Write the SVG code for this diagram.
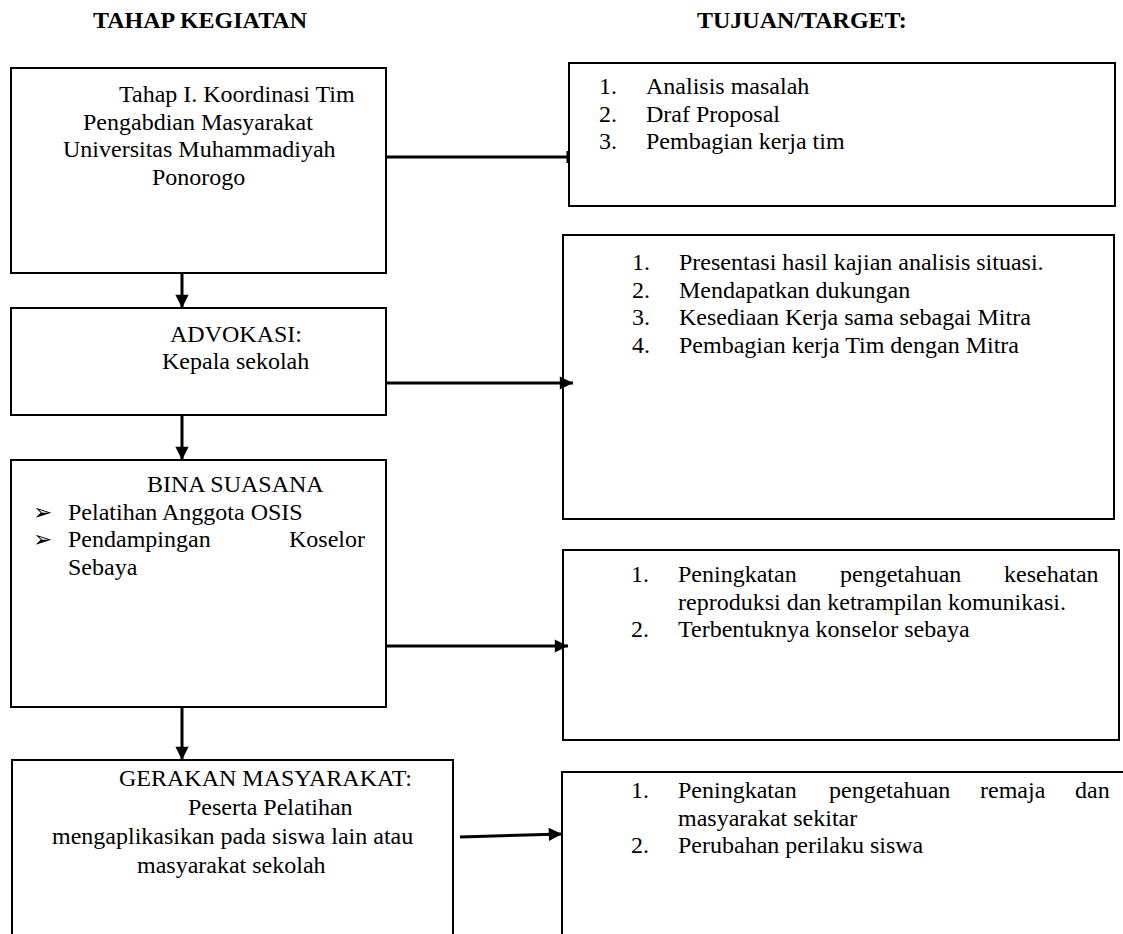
<svg xmlns="http://www.w3.org/2000/svg" width="1123" height="934" viewBox="0 0 1123 934">
<defs>
<style>
text{font-family:"Liberation Serif","Times New Roman",serif;font-size:24px;fill:#000}
.title{font-weight:bold}
.box{fill:#fff;stroke:#000;stroke-width:2}
.conn{stroke:#000;stroke-width:3;fill:none}
.bul{font-family:"DejaVu Sans",sans-serif;font-size:23px}
</style>
<marker id="ah" viewBox="0 0 10 10" refX="10" refY="5" markerWidth="5" markerHeight="4.4" markerUnits="strokeWidth" orient="auto">
<path d="M0,0 L10,5 L0,10 Z" fill="#000"/>
</marker>
</defs>
<rect width="1123" height="934" fill="#fff"/>

<text class="title" x="93" y="28">TAHAP KEGIATAN</text>
<text class="title" x="697" y="28">TUJUAN/TARGET:</text>

<g id="step1">
<rect class="box" x="11" y="68" width="375" height="205"/>
<text x="119" y="102">Tahap I. Koordinasi Tim</text>
<text x="83" y="129.5">Pengabdian Masyarakat</text>
<text x="63" y="157">Universitas Muhammadiyah</text>
<text x="152" y="184.5">Ponorogo</text>
</g>

<g id="target1">
<rect class="box" x="569" y="63" width="546" height="143"/>
<text x="599" y="94">1.</text><text x="646" y="94">Analisis masalah</text>
<text x="599" y="121.6">2.</text><text x="646" y="121.6">Draf Proposal</text>
<text x="599" y="149.2">3.</text><text x="646" y="149.2">Pembagian kerja tim</text>
</g>

<g id="step2">
<rect class="box" x="11" y="308" width="375" height="107"/>
<text x="170" y="342">ADVOKASI:</text>
<text x="162" y="369">Kepala sekolah</text>
</g>

<g id="target2">
<rect class="box" x="563" y="235" width="551" height="284"/>
<text x="632" y="270">1.</text><text x="679" y="270">Presentasi hasil kajian analisis situasi.</text>
<text x="632" y="297.6">2.</text><text x="679" y="297.6">Mendapatkan dukungan</text>
<text x="632" y="325.2">3.</text><text x="679" y="325.2">Kesediaan Kerja sama sebagai Mitra</text>
<text x="632" y="352.8">4.</text><text x="679" y="352.8">Pembagian kerja Tim dengan Mitra</text>
</g>

<g id="step3">
<rect class="box" x="11" y="460" width="375" height="247"/>
<text x="147" y="492">BINA SUASANA</text>
<text class="bul" x="33" y="520">➢</text><text x="68" y="520">Pelatihan Anggota OSIS</text>
<text class="bul" x="33" y="547">➢</text><text x="68" y="547">Pendampingan</text><text x="289" y="547">Koselor</text>
<text x="68" y="575">Sebaya</text>
</g>

<g id="target3">
<rect class="box" x="563" y="550" width="556" height="190"/>
<text x="631" y="582">1.</text>
<text y="582"><tspan x="678">Peningkatan</tspan><tspan x="840">pengetahuan</tspan><tspan x="1004">kesehatan</tspan></text>
<text x="678" y="610">reproduksi dan ketrampilan komunikasi.</text>
<text x="631" y="637">2.</text><text x="678" y="637">Terbentuknya konselor sebaya</text>
</g>

<g id="step4">
<rect class="box" x="12" y="760" width="441" height="190"/>
<text x="119" y="786">GERAKAN MASYARAKAT:</text>
<text x="188" y="815">Peserta Pelatihan</text>
<text x="52" y="844">mengaplikasikan pada siswa lain atau</text>
<text x="137" y="873">masyarakat sekolah</text>
</g>

<g id="target4">
<rect class="box" x="562" y="772" width="580" height="190"/>
<text x="631" y="798">1.</text>
<text y="798"><tspan x="678">Peningkatan</tspan><tspan x="829">pengetahuan</tspan><tspan x="980">remaja</tspan><tspan x="1075">dan</tspan></text>
<text x="678" y="826">masyarakat sekitar</text>
<text x="631" y="853">2.</text><text x="678" y="853">Perubahan perilaku siswa</text>
</g>

<g id="connectors">
<line class="conn" x1="386" y1="157" x2="568" y2="157"/>
<line x1="568" y1="151" x2="568" y2="163" stroke="#000" stroke-width="3"/>
<line class="conn" x1="182" y1="273" x2="182" y2="308" marker-end="url(#ah)"/>
<line class="conn" x1="386" y1="383" x2="573" y2="383" marker-end="url(#ah)"/>
<line class="conn" x1="182" y1="415" x2="182" y2="460" marker-end="url(#ah)"/>
<line class="conn" x1="386" y1="646" x2="568" y2="646" marker-end="url(#ah)"/>
<line class="conn" x1="182" y1="707" x2="182" y2="760" marker-end="url(#ah)"/>
<line class="conn" x1="460" y1="837" x2="562" y2="834" marker-end="url(#ah)"/>
</g>
</svg>
